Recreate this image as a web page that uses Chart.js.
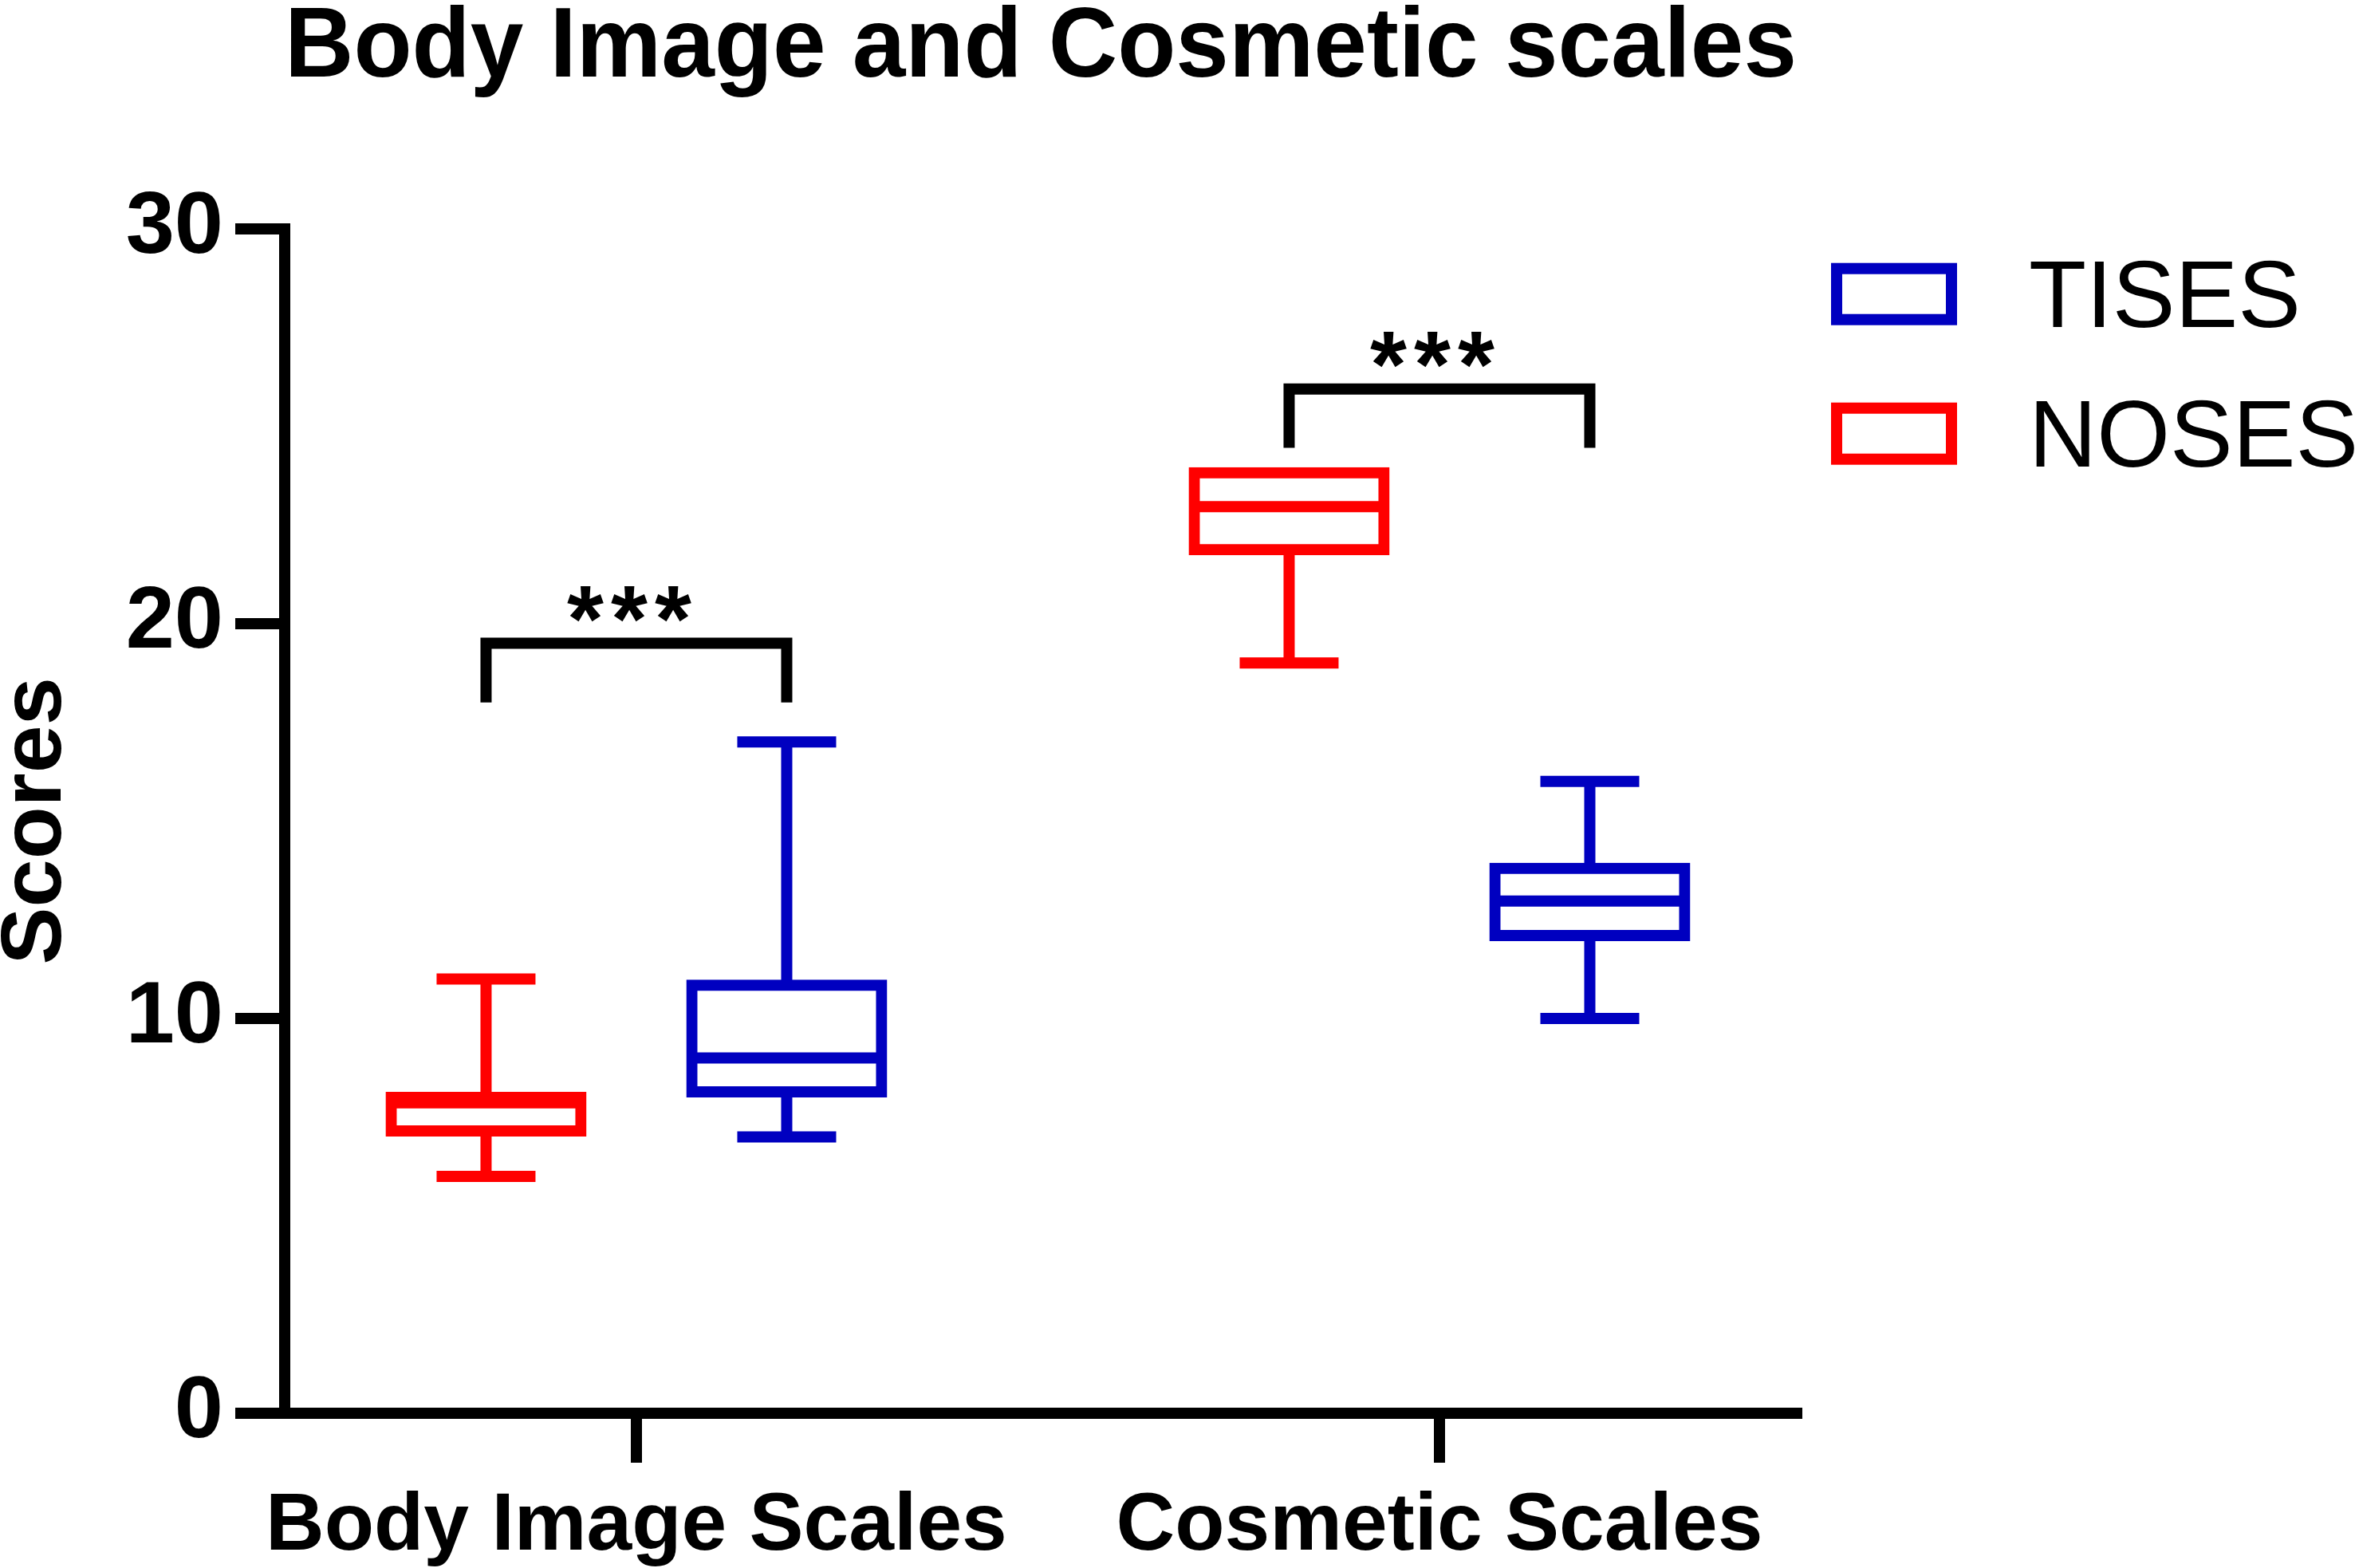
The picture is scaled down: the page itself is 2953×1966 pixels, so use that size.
<!DOCTYPE html>
<html>
<head>
<meta charset="utf-8">
<script src="https://cdn.jsdelivr.net/npm/chart.js@4.4.1/dist/chart.umd.min.js"></script>
<style>
  html, body { margin: 0; padding: 0; background: #fff; }
  canvas { display: block; }
</style>
</head>
<body>
<canvas id="myChart" width="2953" height="1966"></canvas>
<script>
const categories = ["Body Image Scales", "Cosmetic Scales"];
const yTicks = [0, 10, 20, 30];

// NOSES (red boxes)
const nosesMin = [6, 19];
const nosesQ1 = [7.15, 21.87];
const nosesMedian = [7.86, 22.96];
const nosesQ3 = [8.0, 23.82];
const nosesMax = [11, 23.82];

// TISES (blue boxes)
const tisesMin = [7, 10];
const tisesQ1 = [8.14, 12.1];
const tisesMedian = [9, 12.97];
const tisesQ3 = [10.84, 13.8];
const tisesMax = [17, 16];

// significance brackets
const sigText = ["***", "***"];
const sigTop = [19.5, 25.94];
const sigBottom = [18, 24.45];

const LW = 14;
const groupShift = [-0.1872, 0.1872];

const series = [
  { label: "NOSES", color: "#ff0000", min: nosesMin, q1: nosesQ1, med: nosesMedian, q3: nosesQ3, max: nosesMax },
  { label: "TISES", color: "#0000c0", min: tisesMin, q1: tisesQ1, med: tisesMedian, q3: tisesQ3, max: tisesMax },
];

Chart.defaults.font.family = "'Liberation Sans', Arial, sans-serif";
Chart.defaults.color = "#000";

function line(ctx, x1, y1, x2, y2) {
  ctx.beginPath();
  ctx.moveTo(x1, y1);
  ctx.lineTo(x2, y2);
  ctx.stroke();
}

// medians, whiskers and caps on top of the floating bars
const whiskers = {
  id: "whiskers",
  afterDatasetsDraw(chart) {
    const ctx = chart.ctx;
    const y = chart.scales.y;
    series.forEach((s, d) => {
      chart.getDatasetMeta(d).data.forEach((bar, i) => {
        const half = bar.width / 2;
        ctx.save();
        ctx.strokeStyle = s.color;
        ctx.lineWidth = LW;
        ctx.lineCap = "butt";
        const pm = y.getPixelForValue(s.med[i]);
        line(ctx, bar.x - half, pm, bar.x + half, pm);
        if (s.max[i] > s.q3[i]) {
          const p3 = y.getPixelForValue(s.q3[i]);
          const pM = y.getPixelForValue(s.max[i]);
          line(ctx, bar.x, p3, bar.x, pM);
          line(ctx, bar.x - 62, pM, bar.x + 62, pM);
        }
        if (s.min[i] < s.q1[i]) {
          const p1 = y.getPixelForValue(s.q1[i]);
          const pm2 = y.getPixelForValue(s.min[i]);
          line(ctx, bar.x, p1, bar.x, pm2);
          line(ctx, bar.x - 62, pm2, bar.x + 62, pm2);
        }
        ctx.restore();
      });
    });

    // brackets + stars
    const left = chart.getDatasetMeta(0).data;
    const right = chart.getDatasetMeta(1).data;
    categories.forEach((c, i) => {
      const xL = left[i].x, xR = right[i].x;
      const yt = y.getPixelForValue(sigTop[i]);
      const yb = y.getPixelForValue(sigBottom[i]);
      ctx.save();
      ctx.strokeStyle = "#000";
      ctx.lineWidth = LW;
      ctx.lineJoin = "miter";
      ctx.beginPath();
      ctx.moveTo(xL, yb);
      ctx.lineTo(xL, yt);
      ctx.lineTo(xR, yt);
      ctx.lineTo(xR, yb);
      ctx.stroke();
      ctx.fillStyle = "#000";
      ctx.font = "bold 118px 'Liberation Sans', Arial, sans-serif";
      ctx.textAlign = "center";
      ctx.textBaseline = "alphabetic";
      const mid = (xL + xR) / 2 - 9;
      sigText[i].split("").forEach((ch, k) => {
        ctx.fillText(ch, mid + (k - 1) * 55, yt + 10);
      });
      ctx.restore();
    });
  },
  afterDraw(chart) {
    // legend: TISES first, then NOSES
    const ctx = chart.ctx;
    const area = chart.chartArea;
    [1, 0].forEach((d, row) => {
      const s = series[d];
      const cy = area.top + 82 + row * 175;
      ctx.save();
      ctx.strokeStyle = s.color;
      ctx.lineWidth = LW;
      ctx.strokeRect(area.right + 50, cy - 32, 144, 64);
      ctx.fillStyle = "#000";
      ctx.font = "118px 'Liberation Sans', Arial, sans-serif";
      ctx.textAlign = "left";
      ctx.textBaseline = "alphabetic";
      ctx.fillText(s.label, area.right + 291, cy + 41);
      ctx.restore();
    });
  },
};

const myChart = new Chart(document.getElementById("myChart"), {
  type: "bar",
  data: {
    datasets: series.map((s, d) => ({
      label: s.label,
      data: categories.map((c, i) => ({ x: i + 1 + groupShift[d], y: [s.q1[i], s.q3[i]] })),
      backgroundColor: "#ffffff",
      borderColor: s.color,
      borderWidth: LW,
      borderSkipped: false,
      inflateAmount: LW / 2,
      grouped: false,
      barPercentage: 1,
      categoryPercentage: 1,
      maxBarThickness: 238,
    })),
  },
  options: {
    responsive: false,
    animation: false,
    devicePixelRatio: 1,
    layout: { padding: { left: 0, right: 700, top: 0, bottom: 0 } },
    plugins: {
      legend: { display: false },
      tooltip: { enabled: false },
      title: {
        display: true,
        text: "Body Image and Cosmetic scales",
        fullSize: false,
        color: "#000",
        font: { size: 124, weight: "bold", lineHeight: 0.78 },
        padding: { top: 13, bottom: 177 },
      },
    },
    scales: {
      x: {
        type: "linear",
        offset: false,
        min: 0.5621,
        max: 2.4449,
        afterBuildTicks: (s) => { s.ticks = categories.map((c, i) => ({ value: i + 1 })); },
        afterFit: (s) => { s.height = 194; },
        grid: { offset: false, drawOnChartArea: false, drawTicks: true, tickLength: 62, lineWidth: LW, tickWidth: LW, color: "#000", tickColor: "#000" },
        border: { display: true, width: LW, color: "#000" },
        ticks: {
          autoSkip: false,
          maxRotation: 0,
          padding: 20,
          color: "#000",
          font: { size: 102, weight: "bold" },
          callback: (v, i) => categories[i],
        },
      },
      y: {
        min: 0,
        max: 30,
        afterBuildTicks: (s) => { s.ticks = yTicks.map((v) => ({ value: v })); },
        afterFit: (s) => { s.width = 357; },
        grid: { drawOnChartArea: false, drawTicks: true, tickLength: 62, lineWidth: LW, tickWidth: LW, color: "#000", tickColor: "#000" },
        border: { display: true, width: LW, color: "#000" },
        ticks: { padding: 15, color: "#000", font: { size: 110, weight: "bold" } },
        title: {
          display: true,
          text: "Scores",
          color: "#000",
          padding: 0,
          font: { size: 108, weight: "bold", lineHeight: 0.85 },
        },
      },
    },
  },
  plugins: [whiskers],
});
</script>
</body>
</html>
